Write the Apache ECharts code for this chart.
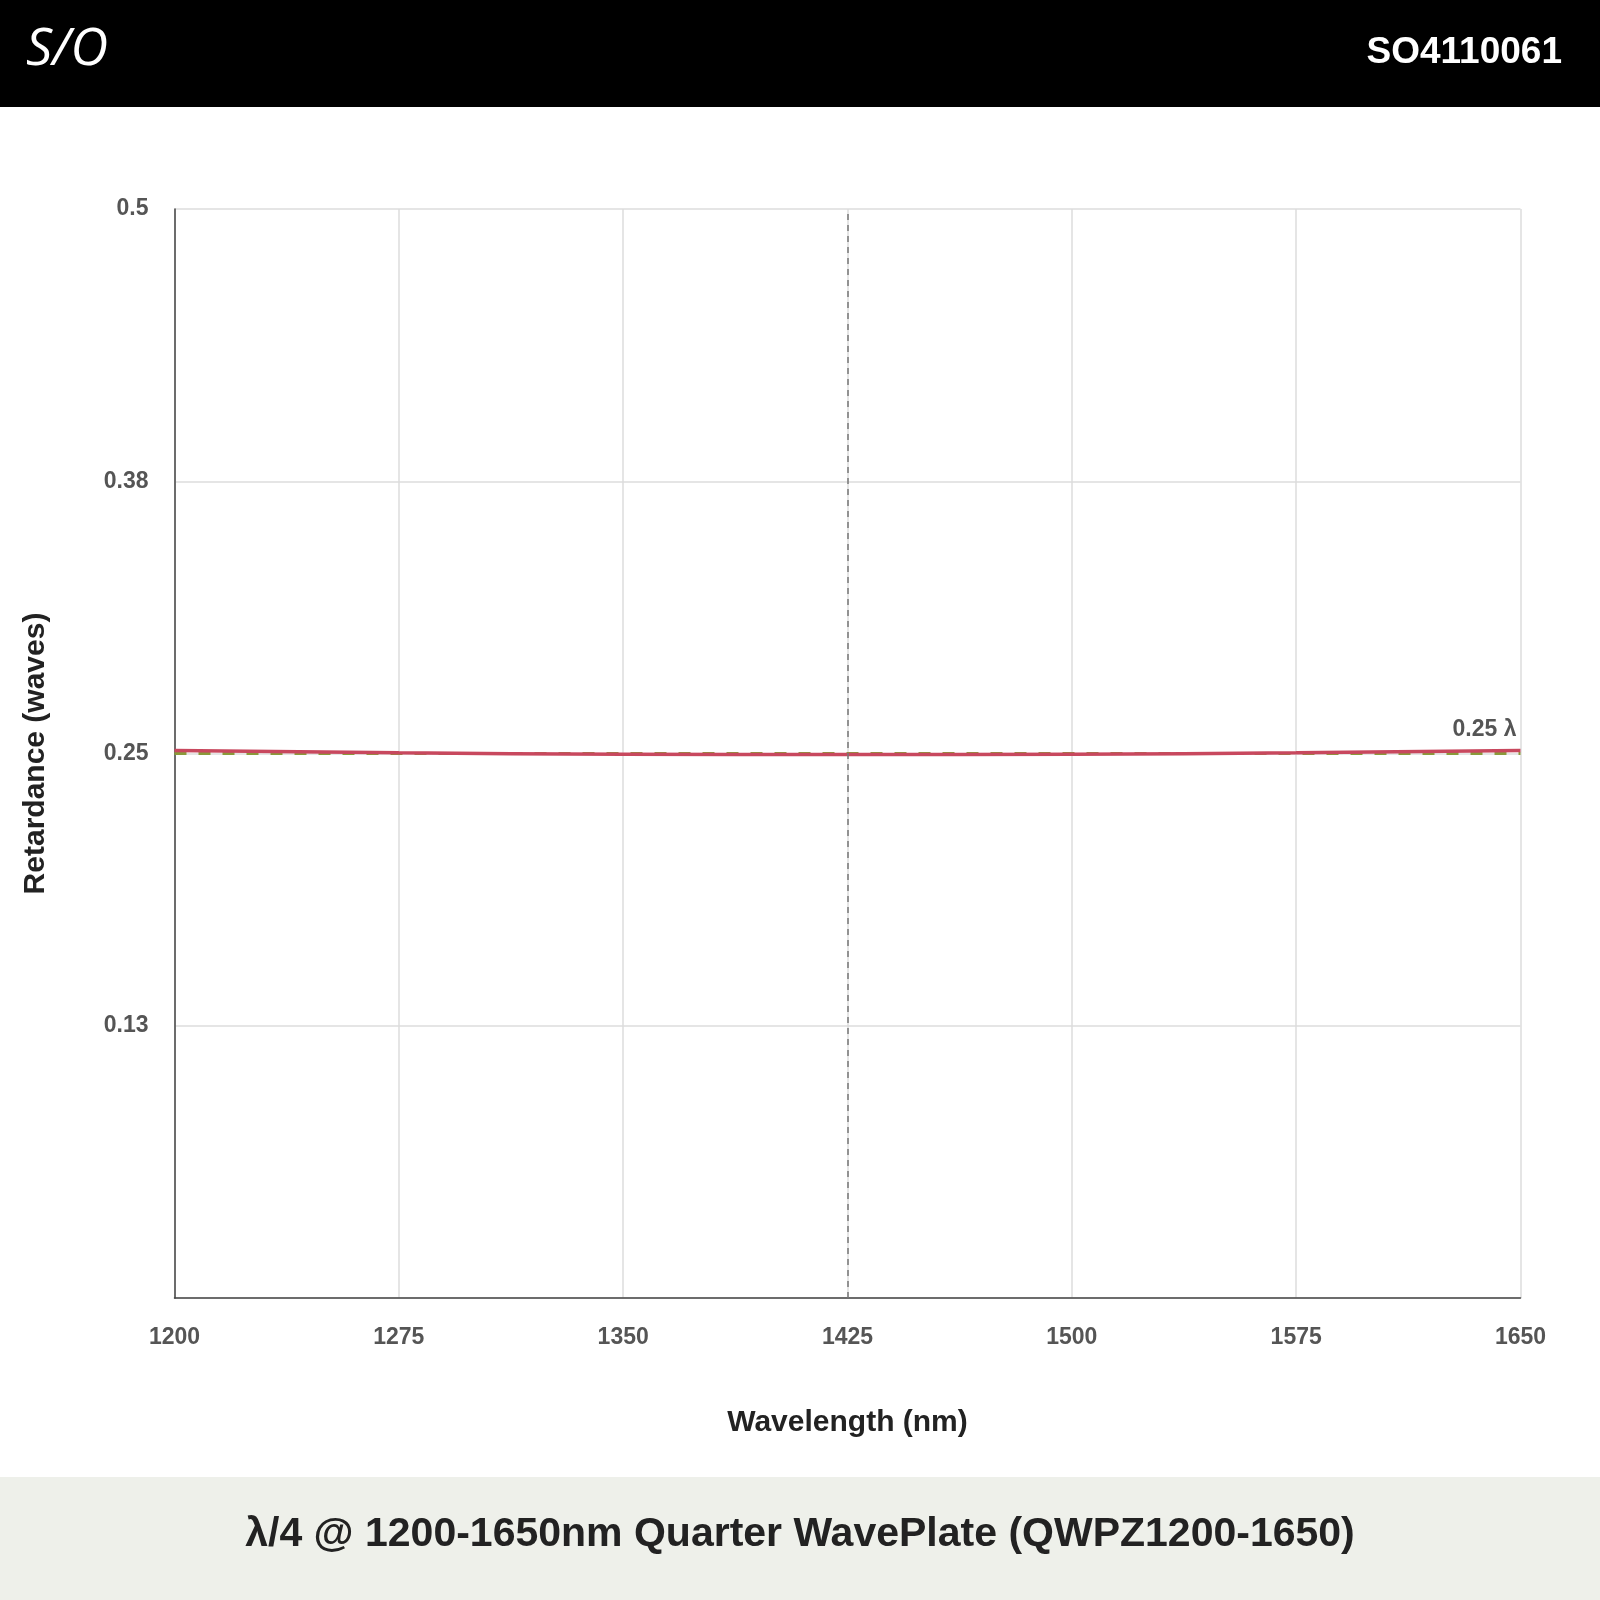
<!DOCTYPE html>
<html><head><meta charset="utf-8">
<script src="https://cdn.jsdelivr.net/npm/echarts@6/dist/echarts.min.js"></script>
<style>html,body{margin:0;padding:0;background:#fff}#c{width:1600px;height:1600px}</style>
</head><body><div id="c"></div>
<script>
const wavelengths = [1200, 1275, 1350, 1425, 1500, 1575, 1650];
const retardance = [0.2514, 0.2503, 0.2497, 0.2495, 0.2497, 0.2503, 0.2514];
const target = [0.25, 0.25, 0.25, 0.25, 0.25, 0.25, 0.25];
const xTicks = [1200, 1275, 1350, 1425, 1500, 1575, 1650];
const yTicks = [0.5, 0.38, 0.25, 0.13];
const F = 'Liberation Sans, Arial, sans-serif';
const chart = echarts.init(document.getElementById('c'));
chart.setOption({
  animation:false,
  graphic:[
    {type:'rect',shape:{x:0,y:0,width:1600,height:107},style:{fill:'#000'}},
    {type:'text',x:26,y:24,style:{text:'S/O',fill:'#fff',font:'italic 52px "Open Sans", sans-serif'}},
    {type:'text',right:38,y:34,style:{text:'SO4110061',fill:'#fff',font:'bold 37px '+F}},
    {type:'rect',shape:{x:0,y:1477,width:1600,height:123},style:{fill:'#eef0ea'}},
    {type:'text',left:'center',y:1514,style:{text:'λ/4 @ 1200-1650nm Quarter WavePlate (QWPZ1200-1650)',fill:'#222',font:'bold 41px '+F}}
  ],
  grid:{left:174.5,right:79.5,top:209,bottom:302},
  xAxis:{type:'value',min:1200,max:1650,interval:75,
    name:'Wavelength (nm)',nameLocation:'middle',nameGap:110,
    nameTextStyle:{fontFamily:F,fontWeight:'bold',fontSize:30,color:'#222'},
    axisLine:{lineStyle:{color:'#444',width:1.5}},axisTick:{show:false},
    axisLabel:{margin:28,fontFamily:F,fontWeight:'bold',fontSize:23,color:'#555',formatter:v=>String(v)},
    splitLine:{lineStyle:{color:'#ddd',width:1.5}}},
  yAxis:{type:'value',min:0,max:0.5,interval:0.125,
    name:'Retardance (waves)',nameLocation:'middle',nameGap:124,
    nameTextStyle:{fontFamily:F,fontWeight:'bold',fontSize:30,color:'#222'},
    axisLine:{show:true,lineStyle:{color:'#444',width:1.5}},axisTick:{show:false},
    axisLabel:{margin:26,fontFamily:F,fontWeight:'bold',fontSize:23,color:'#555',
      formatter:v=>{const s=(Math.round(v*100)/100);return yTicks.includes(s)?String(s):'';}},
    splitLine:{lineStyle:{color:'#ddd',width:1.5}}},
  series:[
    {type:'line',data:wavelengths.map((w,i)=>[w,target[i]]),showSymbol:false,
     lineStyle:{color:'#8a9a3a',width:3,type:[12,12]},z:2,
     markLine:{silent:true,symbol:'none',label:{show:false},
       lineStyle:{color:'#777',type:[6,5],width:1.5},data:[{xAxis:1425}]}},
    {type:'line',data:wavelengths.map((w,i)=>[w,retardance[i]]),showSymbol:false,smooth:true,
     lineStyle:{color:'#c8485e',width:3.5},z:3,
     endLabel:{show:true,formatter:'0.25 λ',offset:[-76,-21],fontFamily:F,fontWeight:'bold',fontSize:23,color:'#555'}}
  ]
});
</script></body></html>
